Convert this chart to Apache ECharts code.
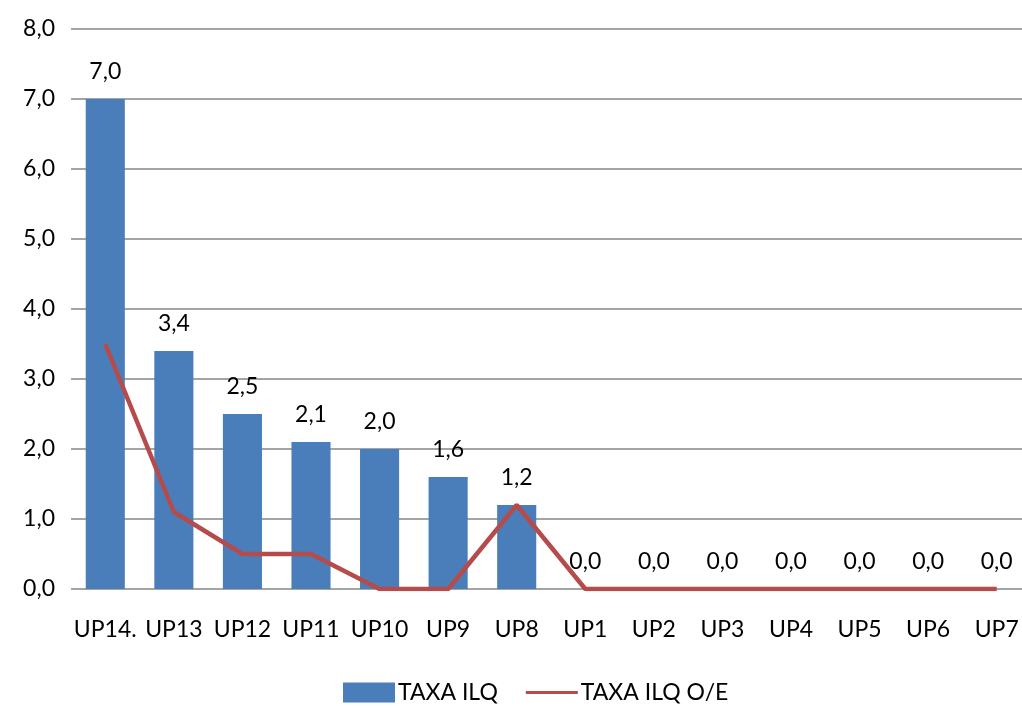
<!DOCTYPE html>
<html>
<head>
<meta charset="utf-8">
<script src="https://cdn.jsdelivr.net/npm/echarts@6/dist/echarts.min.js"></script>
<style>
  html, body { margin: 0; padding: 0; background: #fff; }
  #chart { width: 1022px; height: 711px; }
</style>
</head>
<body>
<div id="chart"></div>
<script>
var categories = ['UP14.', 'UP13', 'UP12', 'UP11', 'UP10', 'UP9', 'UP8', 'UP1', 'UP2', 'UP3', 'UP4', 'UP5', 'UP6', 'UP7'];
var taxaIlq = [7.0, 3.4, 2.5, 2.1, 2.0, 1.6, 1.2, 0, 0, 0, 0, 0, 0, 0];
var taxaIlqOE = [3.5, 1.1, 0.5, 0.5, 0, 0, 1.2, 0, 0, 0, 0, 0, 0, 0];

var font = 'Lato, "Liberation Sans Narrow", sans-serif';
function comma(v) { return v.toFixed(1).replace('.', ','); }

var myChart = echarts.init(document.getElementById('chart'));
myChart.setOption({
    animation: false,
    grid: { left: 71, width: 960, top: 29, bottom: 122, outerBoundsMode: 'none', containLabel: false },
    legend: {
        bottom: 2,
        left: 338,
        itemGap: 28,
        itemWidth: 52,
        itemHeight: 20,
        textStyle: { fontFamily: font, fontSize: 23, color: '#000', padding: [0, 0, 0, -2] },
        data: [
            { name: 'TAXA ILQ', icon: 'rect' },
            { name: 'TAXA ILQ O/E', icon: 'path://M0,9 L52,9 L52,12 L0,12 Z' }
        ]
    },
    xAxis: {
        type: 'category',
        data: categories,
        axisLine: { show: false },
        axisTick: { show: false },
        axisLabel: { fontFamily: font, fontSize: 23, color: '#000', margin: 29, interval: 0 }
    },
    yAxis: {
        type: 'value',
        min: 0,
        max: 8,
        interval: 1,
        axisLine: { show: false },
        axisTick: { show: false },
        splitLine: { lineStyle: { color: '#868686', width: 1.5 } },
        axisLabel: {
            fontFamily: font, fontSize: 23, color: '#000', margin: 16,
            formatter: function (v) { return comma(v); }
        }
    },
    series: [
        {
            name: 'TAXA ILQ',
            type: 'bar',
            data: taxaIlq,
            barWidth: '57%',
            itemStyle: { color: '#4A7EBB' },
            label: {
                show: true,
                position: 'top',
                distance: 16,
                fontFamily: font,
                fontSize: 23,
                color: '#000',
                formatter: function (p) { return comma(p.value); }
            }
        },
        {
            name: 'TAXA ILQ O/E',
            type: 'line',
            data: taxaIlqOE,
            symbol: 'none',
            lineStyle: { color: '#B54B4A', width: 4.5 },
            itemStyle: { color: '#B54B4A' }
        }
    ]
});
</script>
</body>
</html>
